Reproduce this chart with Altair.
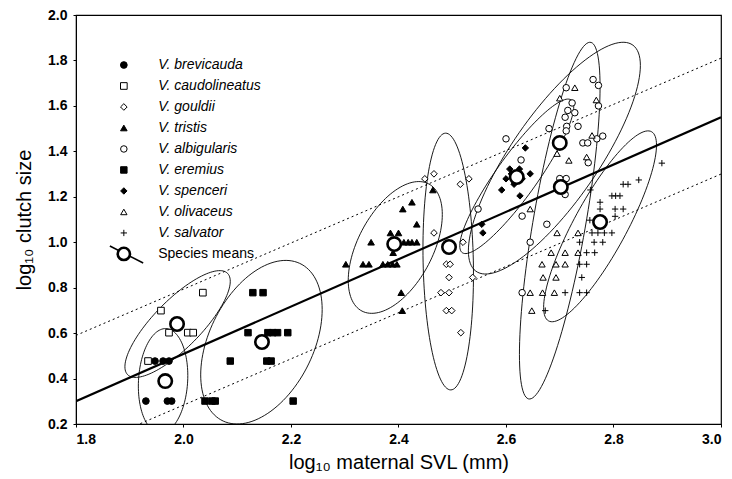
import altair as alt
import pandas as pd
import numpy as np

species = ["V. brevicauda", "V. caudolineatus", "V. gouldii", "V. tristis", "V. albigularis",
           "V. eremius", "V. spenceri", "V. olivaceus", "V. salvator"]
shapes = ["circle", "square", "diamond", "triangle-up", "circle", "square", "diamond",
          "triangle-up", "M-1,0L1,0M0,-1L0,1"]
fills = ["black", "white", "white", "black", "white", "black", "black", "white", "black"]
sizes = [45, 40, 22, 50, 45, 50, 40, 45, 60]

brevicauda_x = [1.930, 1.970, 1.978, 1.947, 1.962, 1.973]
brevicauda_y = [0.301, 0.301, 0.301, 0.477, 0.477, 0.477]
caudolineatus_x = [1.934, 1.958, 1.973, 2.008, 2.018, 2.036]
caudolineatus_y = [0.477, 0.699, 0.602, 0.602, 0.602, 0.778]
gouldii_x = [2.449, 2.466, 2.515, 2.531, 2.466, 2.520, 2.489, 2.496, 2.494, 2.538, 2.479, 2.494, 2.489, 2.499, 2.516]
gouldii_y = [1.279, 1.301, 1.255, 1.279, 1.041, 1.000, 0.903, 0.903, 0.845, 0.845, 0.778, 0.778, 0.699, 0.699, 0.602]
tristis_x = [2.302, 2.334, 2.345, 2.371, 2.380, 2.389, 2.397, 2.349, 2.410, 2.418, 2.425, 2.434,
             2.385, 2.400, 2.390, 2.408, 2.425, 2.464, 2.434, 2.405, 2.407]
tristis_y = [0.903, 0.903, 0.903, 0.903, 0.903, 0.903, 0.903, 1.000, 1.000, 1.000, 1.000, 1.000,
             1.041, 1.041, 0.954, 1.146, 1.176, 1.230, 1.079, 0.778, 0.699]
albigularis_x = [2.762, 2.772, 2.712, 2.723, 2.715, 2.728, 2.710, 2.713, 2.734, 2.680, 2.712, 2.600,
                 2.743, 2.752, 2.769, 2.780, 2.628, 2.753, 2.712, 2.700, 2.710, 2.630, 2.676, 2.645,
                 2.630, 2.548, 2.772]
albigularis_y = [1.716, 1.690, 1.680, 1.613, 1.580, 1.570, 1.550, 1.510, 1.510, 1.500, 1.490, 1.455,
                 1.437, 1.437, 1.455, 1.467, 1.362, 1.350, 1.280, 1.280, 1.210, 1.115, 1.079, 1.000,
                 0.778, 1.146, 1.600]
eremius_x = [2.129, 2.148, 2.120, 2.157, 2.166, 2.175, 2.194, 2.087, 2.155, 2.163, 2.040, 2.053, 2.059, 2.204]
eremius_y = [0.778, 0.778, 0.602, 0.602, 0.602, 0.602, 0.602, 0.477, 0.477, 0.477, 0.301, 0.301, 0.301, 0.301]
spenceri_x = [2.555, 2.557, 2.592, 2.607, 2.626, 2.636, 2.645, 2.600, 2.615, 2.630, 2.610, 2.625]
spenceri_y = [1.079, 1.041, 1.230, 1.322, 1.204, 1.415, 1.301, 1.279, 1.255, 1.279, 1.301, 1.322]
olivaceus_x = [2.728, 2.700, 2.768, 2.760, 2.695, 2.717, 2.750, 2.645, 2.695, 2.734, 2.684, 2.710,
               2.734, 2.667, 2.693, 2.710, 2.669, 2.693, 2.645, 2.668, 2.690, 2.648]
olivaceus_y = [1.680, 1.634, 1.626, 1.470, 1.390, 1.360, 1.375, 1.146, 1.041, 1.041, 0.954, 0.954,
               0.954, 0.903, 0.903, 0.903, 0.845, 0.845, 0.778, 0.778, 0.778, 0.699]
salvator_x = [2.890, 2.847, 2.818, 2.827, 2.757, 2.797, 2.804, 2.812, 2.775, 2.803, 2.818, 2.775,
              2.803, 2.756, 2.760, 2.771, 2.783, 2.797, 2.737, 2.764, 2.780, 2.750, 2.765, 2.737,
              2.750, 2.741, 2.710, 2.737, 2.750, 2.673]
salvator_y = [1.348, 1.274, 1.255, 1.255, 1.230, 1.204, 1.204, 1.204, 1.176, 1.146, 1.146, 1.146,
              1.114, 1.097, 1.041, 1.041, 1.041, 1.041, 1.000, 1.000, 1.000, 0.954, 0.954, 0.903,
              0.903, 0.845, 0.778, 0.778, 0.778, 0.699]

mean_x = [1.966, 1.988, 2.494, 2.392, 2.700, 2.146, 2.620, 2.702, 2.775]
mean_y = [0.389, 0.640, 0.979, 0.992, 1.437, 0.561, 1.287, 1.243, 1.089]

# ellipse: centre, half-extent in x and y, correlation (tilt)
ell_cx = [1.962, 1.989, 2.4925, 2.394, 2.690, 2.145, 2.620, 2.700, 2.775]
ell_cy = [0.390, 0.640, 0.915, 0.977, 1.370, 0.560, 1.290, 1.095, 1.070]
ell_rx = [0.046, 0.098, 0.047, 0.0875, 0.160, 0.113, 0.106, 0.075, 0.105]
ell_ry = [0.230, 0.235, 0.565, 0.290, 0.510, 0.360, 0.340, 0.785, 0.420]
ell_r = [0.10, 0.80, -0.10, 0.50, 0.80, 0.40, 0.90, 0.75, 0.85]

reg_x = [1.8, 3.0]
reg_y = [0.30, 1.55]
upper_y = [0.59, 1.81]
lower_y = [0.08, 1.30]

xs = [brevicauda_x, caudolineatus_x, gouldii_x, tristis_x, albigularis_x, eremius_x, spenceri_x, olivaceus_x, salvator_x]
ys = [brevicauda_y, caudolineatus_y, gouldii_y, tristis_y, albigularis_y, eremius_y, spenceri_y, olivaceus_y, salvator_y]

rows = []
for sp, xl, yl in zip(species, xs, ys):
    for a, b in zip(xl, yl):
        rows.append({"sp": sp, "x": a, "y": b})
pts = pd.DataFrame(rows)

t = np.linspace(0, 2 * np.pi, 121)
erows = []
for i, sp in enumerate(species):
    ph = np.arccos(ell_r[i])
    ex = ell_cx[i] + ell_rx[i] * np.cos(t)
    ey = ell_cy[i] + ell_ry[i] * np.cos(t - ph)
    for k in range(len(t)):
        erows.append({"sp": sp, "x": ex[k], "y": ey[k], "o": k})
ell = pd.DataFrame(erows)

lines = pd.DataFrame({
    "x": reg_x * 3,
    "y": reg_y + upper_y + lower_y,
    "kind": ["fit"] * 2 + ["up"] * 2 + ["low"] * 2,
})

means = pd.DataFrame({"x": mean_x, "y": mean_y})

# legend (placed in data units at the top-left of the plot)
leg_y = [1.78 - 0.0924 * i for i in range(10)]
leg = pd.DataFrame({"sp": species, "x": [1.889] * 9, "tx": [1.953] * 9, "y": leg_y[:9]})
leg_mean = pd.DataFrame({"x": [1.889], "y": [leg_y[9]], "tx": [1.953], "label": ["Species means"]})
leg_tail = pd.DataFrame({"x": [1.863, 1.925], "y": [leg_y[9] + 0.035, leg_y[9] - 0.04]})

X = alt.X("x:Q", scale=alt.Scale(domain=[1.8, 3.0], nice=False),
          axis=alt.Axis(values=[1.8, 2.0, 2.2, 2.4, 2.6, 2.8, 3.0], format=".1f",
                        title="log₁₀ maternal SVL (mm)"))
Y = alt.Y("y:Q", scale=alt.Scale(domain=[0.2, 2.0], nice=False),
          axis=alt.Axis(values=[0.2, 0.4, 0.6, 0.8, 1.0, 1.2, 1.4, 1.6, 1.8, 2.0], format=".1f",
                        title="log₁₀ clutch size"))

shape_enc = alt.Shape("sp:N", scale=alt.Scale(domain=species, range=shapes), legend=None)
fill_enc = alt.Fill("sp:N", scale=alt.Scale(domain=species, range=fills), legend=None)
size_enc = alt.Size("sp:N", scale=alt.Scale(domain=species, range=sizes), legend=None)

ellipses = alt.Chart(ell).mark_line(color="black", strokeWidth=0.9, clip=True).encode(
    x=X, y=Y, detail="sp:N", order="o:Q")

fit = alt.Chart(lines[lines.kind == "fit"]).mark_line(color="black", strokeWidth=2.2, clip=True).encode(x=X, y=Y)
bands = alt.Chart(lines[lines.kind != "fit"]).mark_line(color="black", strokeWidth=1, strokeDash=[2, 3], clip=True).encode(
    x=X, y=Y, detail="kind:N")

points = alt.Chart(pts).mark_point(stroke="black", strokeWidth=1, opacity=1, filled=False).encode(
    x=X, y=Y, shape=shape_enc, fill=fill_enc, size=size_enc)

mean_pts = alt.Chart(means).mark_point(shape="circle", size=180, stroke="black", strokeWidth=2.6,
                                       fill="white", opacity=1).encode(x=X, y=Y)

leg_pts = alt.Chart(leg).mark_point(stroke="black", strokeWidth=1, opacity=1).encode(
    x=X, y=Y, shape=shape_enc, fill=fill_enc, size=size_enc)
leg_txt = alt.Chart(leg).mark_text(align="left", baseline="middle", fontStyle="italic", fontSize=14,
                                   font="Liberation Sans").encode(
    x=alt.X("tx:Q", scale=alt.Scale(domain=[1.8, 3.0], nice=False)), y=Y, text="sp:N")
leg_tail_line = alt.Chart(leg_tail).mark_line(color="black", strokeWidth=1.5, interpolate="monotone").encode(x=X, y=Y)
leg_mean_pt = alt.Chart(leg_mean).mark_point(shape="circle", size=150, stroke="black", strokeWidth=2.6,
                                             fill="white", opacity=1).encode(x=X, y=Y)
leg_mean_txt = alt.Chart(leg_mean).mark_text(align="left", baseline="middle", fontSize=14,
                                             font="Liberation Sans").encode(
    x=alt.X("tx:Q", scale=alt.Scale(domain=[1.8, 3.0], nice=False)), y=Y, text="label:N")

chart = alt.layer(
    ellipses, bands, fit, points, mean_pts,
    leg_pts, leg_txt, leg_tail_line, leg_mean_pt, leg_mean_txt
).properties(
    width=645, height=409,
    autosize=alt.AutoSizeParams(type="none"),
    padding={"left": 68, "top": 7, "right": 3, "bottom": 55},
).configure_view(stroke="black", strokeWidth=1.2).configure_axis(
    grid=False, domain=True, domainColor="black", tickColor="black", tickSize=3,
    labelFont="Liberation Sans", labelFontSize=14, labelColor="black", labelFontWeight="bold",
    titleFont="Liberation Sans", titleFontSize=20, titleColor="black", titleFontWeight="normal",
).configure_axisY(labelPadding=6, titlePadding=13).configure_axisX(labelPadding=5, titlePadding=6)

chart.save("out.html", embed_options={"renderer": "svg", "actions": False})
